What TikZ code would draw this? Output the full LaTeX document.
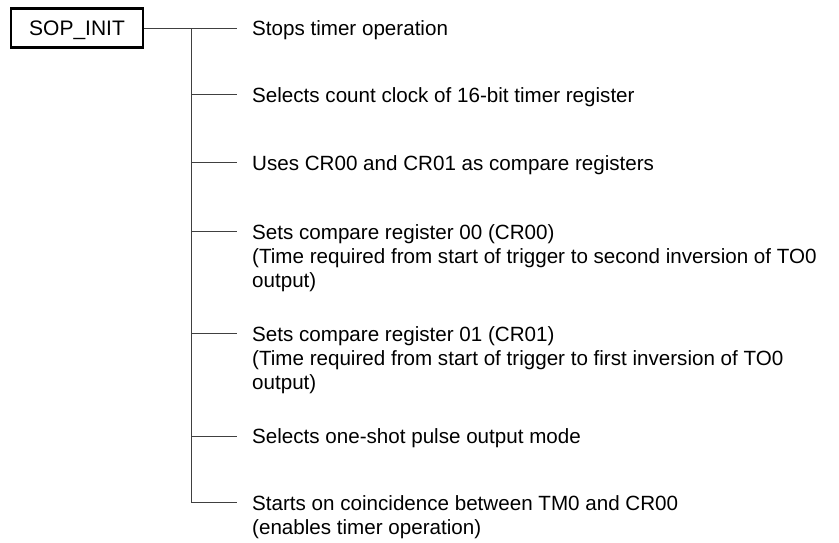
\documentclass[tikz,border=0pt]{standalone}
\usepackage{fontspec}
\setmainfont{Liberation Sans}
\begin{document}
\begin{tikzpicture}[x=1pt,y=-1pt,
  conn/.style={draw=black!75,line width=1pt},
  boxnode/.style={draw=black,line width=2.4pt,minimum width=132pt,minimum height=39pt,inner sep=0pt,text height=15pt,text depth=0pt,font=\fontsize{21}{24}\selectfont},
  desc/.style={anchor=base west,align=left,inner sep=0pt,font=\fontsize{20.6}{24}\selectfont}]
\useasboundingbox (0,0) rectangle (839,542);
\node[boxnode] (box) at (77,28) {SOP\_INIT};
\coordinate (t1) at (191,28);
\coordinate (t2) at (191,94.7);
\coordinate (t3) at (191,162.3);
\coordinate (t4) at (191,231.7);
\coordinate (t5) at (191,333.3);
\coordinate (t6) at (191,436);
\coordinate (t7) at (191,502.7);
\coordinate (e1) at (237,28);
\coordinate (e2) at (237,94.7);
\coordinate (e3) at (237,162.3);
\coordinate (e4) at (237,231.7);
\coordinate (e5) at (237,333.3);
\coordinate (e6) at (237,436);
\coordinate (e7) at (237,502.7);
\node[desc] (d1) at (252,35.8) {Stops timer operation};
\node[desc] (d2) at (252,102.5) {Selects count clock of 16-bit timer register};
\node[desc] (d3) at (252,170.1) {Uses CR00 and CR01 as compare registers};
\node[desc] (d4) at (252,287.5) {Sets compare register 00 (CR00)\\(Time required from start of trigger to second inversion of TO0\\output)};
\node[desc] (d5) at (252,389.1) {Sets compare register 01 (CR01)\\(Time required from start of trigger to first inversion of TO0\\output)};
\node[desc] (d6) at (252,443.8) {Selects one-shot pulse output mode};
\node[desc] (d7) at (252,534.5) {Starts on coincidence between TM0 and CR00\\(enables timer operation)};
\draw[conn] (box.east |- t1) -- (e1);
\draw[conn] (t1) -- (t7) -- (e7);
\foreach \i in {2,...,6} {\draw[conn] (t\i) -- (e\i);}
\end{tikzpicture}
\end{document}
